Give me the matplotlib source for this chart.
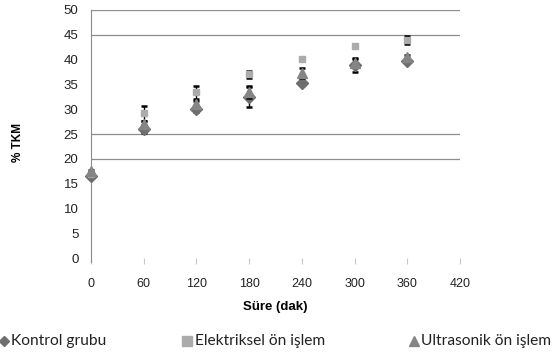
import matplotlib
matplotlib.use("Agg")
import matplotlib.pyplot as plt
from matplotlib.lines import Line2D
import numpy as np

time_min = [0, 60, 120, 180, 240, 300, 360]
kontrol = [16.5, 26.0, 30.0, 32.5, 35.3, 39.0, 39.8]
kontrol_err = [0.3, 0.8, 0.6, 2.0, 0.5, 1.4, 0.3]
elektriksel = [17.0, 29.2, 33.4, 37.0, 40.2, 42.7, 44.0]
elektriksel_err = [0.3, 1.5, 1.3, 0.7, 0.3, 0.3, 0.8]
ultrasonik = [17.5, 27.0, 31.0, 33.5, 37.3, 39.3, 40.5]
ultrasonik_err = [0.3, 0.7, 0.6, 1.2, 1.0, 0.8, 0.4]

x_ticks = [0, 60, 120, 180, 240, 300, 360, 420]
y_ticks = [0, 5, 10, 15, 20, 25, 30, 35, 40, 45, 50]
grid_levels = [20, 25, 45, 50]
labels = ['Kontrol grubu', 'Elektriksel ön işlem', 'Ultrasonik ön işlem']

tick_font = ['Liberation Sans', 'DejaVu Sans']
legend_font = ['Lato', 'DejaVu Sans']

W, H = 555, 356
fig = plt.figure(figsize=(W / 100, H / 100), dpi=100)
ax = fig.add_axes([0.164, 0.275, 0.665, 0.697])

for g in grid_levels:
    ax.axhline(g, color='#8c8c8c', lw=0.9, zorder=0)

eb_kw = dict(ls='none', ecolor='black', elinewidth=1.0, capsize=2.5, capthick=1.8, clip_on=False)
series = [
    (kontrol, kontrol_err, 'D', 6.5, '#6e6e6e', labels[0], 3),
    (elektriksel, elektriksel_err, 's', 4.5, '#ababab', labels[1], 3),
    (ultrasonik, ultrasonik_err, '^', 6.5, '#858585', labels[2], 4),
]
for vals, err, mk, ms, col, lab, z in series:
    cont = ax.errorbar(time_min, vals, yerr=err, marker=mk, ms=ms, color=col,
                       mec=col, label=lab, zorder=z, **eb_kw)
    for art in cont.lines[1] + cont.lines[2]:
        art.set_clip_on(False)

ax.set_xlim(0, 420)
ax.set_ylim(0, 50)
ax.set_xticks(x_ticks)
ax.set_yticks(y_ticks)
ax.set_xticklabels([str(v) for v in x_ticks], family=tick_font, fontsize=9)
ax.set_yticklabels([str(v) for v in y_ticks], family=tick_font, fontsize=9.5)
for s in ['top', 'right', 'bottom']:
    ax.spines[s].set_visible(False)
ax.spines['left'].set_color('#8c8c8c')
ax.spines['left'].set_bounds(-0.8, 50)
ax.tick_params(axis='y', length=0, pad=9, colors='#222222')
ax.tick_params(axis='x', length=4, color='#c8c8c8', direction='out', pad=10, colors='#222222')

ax.set_xlabel('Süre (dak)', family=tick_font, fontsize=9.5, fontweight='bold', labelpad=8)
fig.text(0.033, 0.6, '% TKM', rotation=90, ha='center', va='center',
         family=tick_font, fontsize=8.5, fontweight='bold')

# legend entries placed along the bottom edge
leg_y = 1 - 341 / H
leg_items = [
    ('D', 5.5, '#6e6e6e', 3.5, 11),
    ('s', 6.5, '#ababab', 187, 195),
    ('^', 7, '#858585', 414, 421),
]
for (mk, ms, col, mx, tx), lab in zip(leg_items, labels):
    fig.add_artist(Line2D([mx / W], [leg_y], transform=fig.transFigure, ls='none',
                          marker=mk, ms=ms, color=col))
    fig.text(tx / W, leg_y, lab, ha='left', va='center', family=legend_font,
             fontsize=11.2, color='#222222')

fig.savefig('out.png', dpi=100)
